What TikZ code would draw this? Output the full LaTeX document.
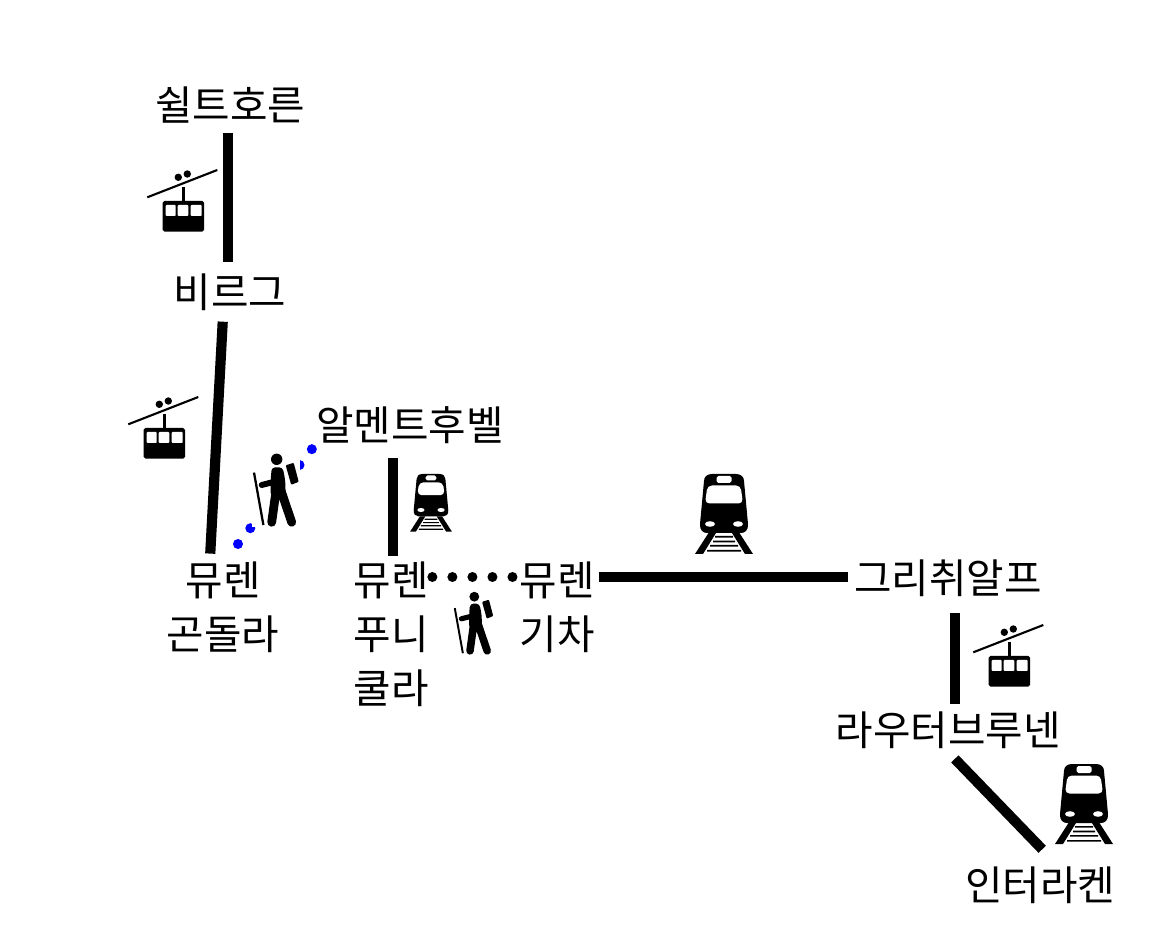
\documentclass[tikz,border=0pt]{standalone}
\usepackage{fontspec}
\setmainfont{Noto Sans CJK KR}
\tikzset{
  station/.style={inner sep=1.7pt,font=\fontsize{23.2}{30.8}\selectfont},
  route/.style={line width=5.8pt},
  dotwalk/.style={line width=5.7pt,line cap=round,dash pattern=on 0pt off 11.4pt},
  pics/gondola/.style={code={
    \draw[line width=1.2pt] (-35.7,-4.7) -- (34.3,-32);
    \fill (-4.7,-24.7) circle (3.7) (4.3,-28) circle (3.7);
    \draw[line width=1.5pt] (0.3,-15) -- (0.3,0);
    \fill[rounded corners=1pt] (-20.3,-1) rectangle (21,29.7);
    \fill[white,rounded corners=0.5pt] (-17.3,3) rectangle (-7.3,14) (-5.3,3) rectangle (5.3,14) (7.7,3) rectangle (18.7,14);
  }},
  pics/train/.style={code={
    \begin{scope}[scale=#1]
      \fill (-12,0) -- (12,0) .. controls (17,0) and (20,3) .. (20,7) -- (24,50)
        .. controls (24.5,56) and (21,59) .. (17,59) -- (-17,59)
        .. controls (-21,59) and (-24.5,56) .. (-24,50) -- (-20,7)
        .. controls (-20,3) and (-17,0) .. (-12,0) -- cycle;
      \fill[white,rounded corners=2.5pt] (-16.5,11.5) -- (16.5,11.5) -- (19,29.5) -- (-19,29.5) -- cycle;
      \fill[white,rounded corners=1pt] (-7.5,2) rectangle (7.5,9);
      \fill[white] (-14,50) ellipse (5 and 2.8) (14,50) ellipse (5 and 2.8);
      \fill (-15.5,59) -- (-29,80) -- (-21,80) -- (-8,59) -- cycle;
      \fill (15.5,59) -- (29,80) -- (21,80) -- (8,59) -- cycle;
      \fill (-9,62) rectangle (9,63.6) (-11,66.7) rectangle (11,68.3)
        (-14,71) rectangle (14,72.6) (-17,76) rectangle (17,77.6);
    \end{scope}
  }},
  pics/hiker/.style={code={
    \begin{scope}[scale=#1]
      \fill[white] (-25,-8) rectangle (23.3,68);
      \fill (0,0) circle (5.7);
      \fill[rounded corners=0.5pt] (9,6) -- (17,3.5) -- (22,22.5) -- (14.5,25.5) -- cycle;
      \draw[line width=#1*1.3pt] (-22.7,13.3) -- (-13.3,65.7);
      \draw[line width=#1*3.4pt,line cap=round] (-15,25.7) -- (-1.7,22.3);
      \fill[rounded corners=2pt] (-5,8) -- (6,8) -- (8.5,20.7) -- (9,37) -- (-6,37) -- (-6,20.7) -- cycle;
      \draw[line width=#1*5pt,line cap=round] (-1,34) -- (-5,63) (4.5,32) -- (15,63);
    \end{scope}
  }}
}
\begin{document}
\begin{tikzpicture}[x=0.02cm,y=-0.02cm]
  \useasboundingbox (0,0) rectangle (1160,935);
  \node (schilthorn) at (230,105) [station] {쉴트호른};
  \node (birg) at (230,292) [station] {비르그};
  \node (almend) at (410,425) [station] {알멘트후벨};
  \node (gondola) at (223,607) [station,align=center] {뮤렌\\곤돌라};
  \node (funicular) at (391,634) [station,align=left] {뮤렌\\푸니\\쿨라};
  \node (railway) at (557,607) [station,align=left] {뮤렌\\기차};
  \node (grindelwald) at (948,578) [station] {그리취알프};
  \node (lauterbrunnen) at (948,730) [station] {라우터브루넨};
  \node (interlaken) at (1040,885) [station] {인터라켄};
  \coordinate (walktop) at (312,449);
  \coordinate (walkbottom) at (238,544);
  \coordinate (walkline) at (0,577);
  \draw[route,shorten <=3.4pt,shorten >=4.5pt] ([xshift=-1.1pt]schilthorn.south) -- ([xshift=-1.1pt]birg.north);
  \draw[route,shorten <=4.5pt,shorten >=2.6pt] ([xshift=-3.9pt]birg.south) -- ([xshift=-7.4pt]gondola.north);
  \draw[route,shorten <=1.2pt,shorten >=6.2pt] ([xshift=1pt]funicular.north) -- ([xshift=1pt]funicular.north |- almend.south);
  \draw[route,shorten <=0.4pt,shorten >=1.8pt] (railway.east |- walkline) -- (grindelwald.west |- walkline);
  \draw[route,shorten <=7.4pt,shorten >=2.3pt] ([xshift=4pt]grindelwald.south) -- ([xshift=4pt]lauterbrunnen.north);
  \draw[route,shorten <=5.6pt,shorten >=11pt] (lauterbrunnen.south) -- ([xshift=8.9pt]interlaken.north);
  \draw[dotwalk,blue] (walkbottom) -- (walktop);
  \draw[dotwalk,shorten <=0.3pt,shorten >=1.1pt] (funicular.east |- walkline) -- (railway.west |- walkline);
  \pic (gondolaA) at (183,202) {gondola};
  \pic (gondolaB) at (164,429) {gondola};
  \pic (gondolaC) at (1009,657) {gondola};
  \pic (trainA) at (431,474) {train=0.72};
  \pic (trainB) at (724,474) {train=1};
  \pic (trainC) at (1084,764) {train=1};
  \pic (hikerA) at (276.7,459.3) {hiker=1};
  \pic (hikerB) at (474.3,596.7) {hiker=0.86};
\end{tikzpicture}
\end{document}
